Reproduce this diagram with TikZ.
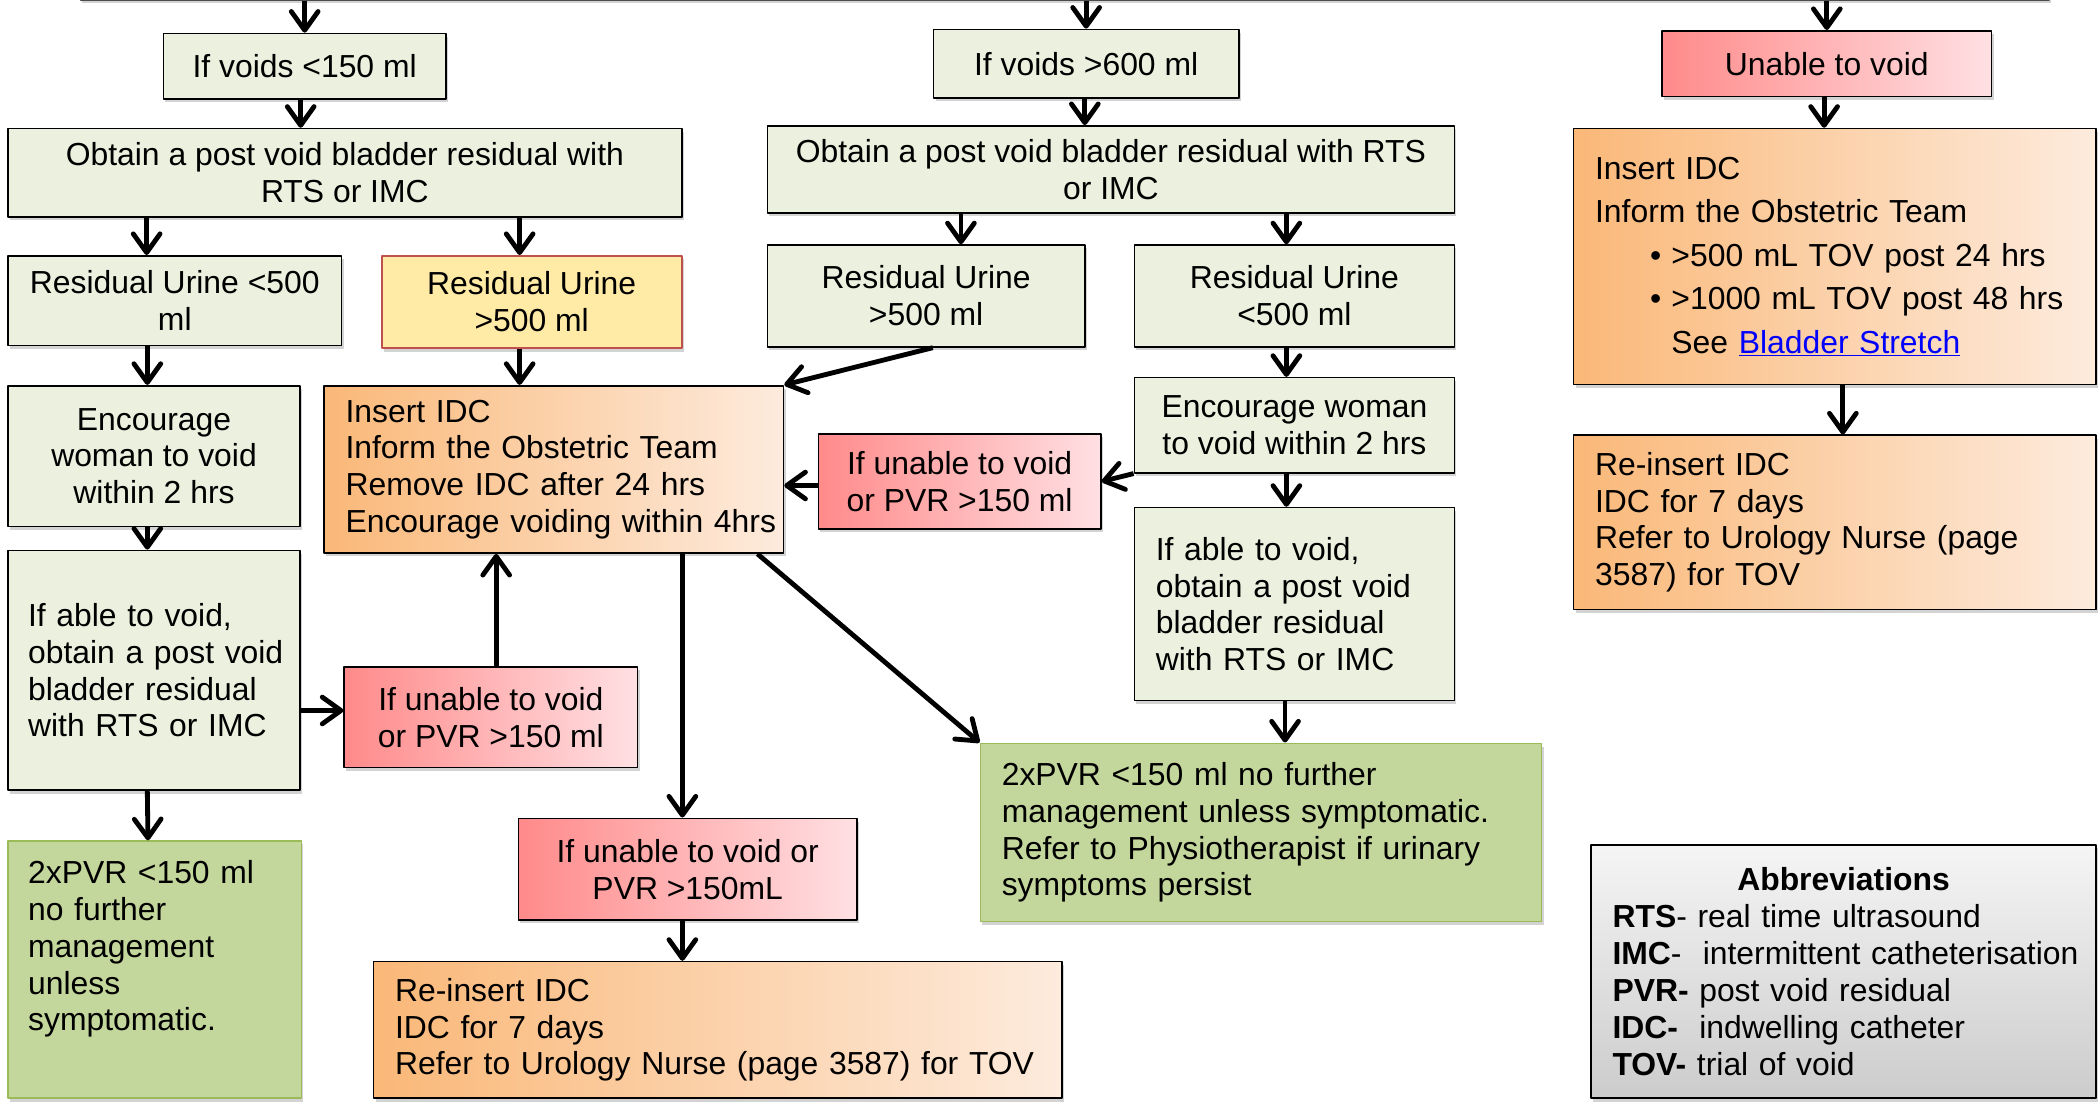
\documentclass[tikz,border=0pt]{standalone}
\usepackage{fontspec}
\setmainfont{Liberation Sans}
\usetikzlibrary{arrows.meta,shadows}

\definecolor{paleolive}{HTML}{EBF1DE}
\definecolor{olivefill}{HTML}{C3D69B}
\definecolor{oliveline}{HTML}{9BBB59}
\definecolor{warnyellow}{HTML}{FFEAA6}
\definecolor{warnred}{HTML}{C0504D}
\definecolor{orangeL}{HTML}{FAB878}
\definecolor{orangeR}{HTML}{FDEBDD}
\definecolor{redL}{HTML}{FF8A8A}
\definecolor{redR}{HTML}{FFE0E3}
\definecolor{linkblue}{HTML}{0000FF}

\begin{document}
\begin{tikzpicture}[x=1pt, y=-1pt, line cap=round, line join=round,
  font=\fontsize{23.8}{27.5}\selectfont,
  box/.style={draw=black, line width=1.2pt, inner sep=0pt, align=center,
    drop shadow={shadow xshift=1.5pt, shadow yshift=-2.5pt, opacity=0.35}},
  stepbox/.style={box, fill=paleolive},
  endbox/.style={box, draw=oliveline, fill=olivefill},
  alertbox/.style={box, left color=redL, right color=redR},
  actbox/.style={box, left color=orangeL, right color=orangeR},
  notebox/.style={align=left, inner xsep=16pt},
  flow/.style={line width=3.6pt, line cap=butt, -{Straight Barb[length=14pt, width=20pt, round]}}]

  %% ════ header box (cut off by the page) ════
  \node[stepbox, draw=black!70, minimum width=1470, minimum height=40] (head) at (795,-20) {};

  %% ════ row 1 ════
  \node[stepbox, minimum width=211, minimum height=49] (voids150) at (227.5,49.5) {If voids <150 ml};
  \node[stepbox, minimum width=228, minimum height=51] (voids600) at (811,47.5) {If voids >600 ml};
  \node[alertbox, minimum width=246, minimum height=49] (unable) at (1364,47.5) {Unable to void};

  %% ════ row 2 ════
  \node[stepbox, minimum width=503, minimum height=66] (obtainL) at (257.5,129)
    {Obtain a post void bladder residual with\\RTS or IMC};
  \node[stepbox, minimum width=513, minimum height=65] (obtainM) at (829.5,126.5)
    {Obtain a post void bladder residual with RTS\\or IMC};
  \node[actbox, notebox, text width=358, minimum height=191, font=\fontsize{23.8}{32.5}\selectfont] (insertR) at (1370,191.5)
    {Insert IDC\\
     Inform the Obstetric Team\\
     \hspace*{41pt}\makebox[16pt][l]{\textbullet}>500 mL TOV post 24 hrs\\
     \hspace*{41pt}\makebox[16pt][l]{\textbullet}>1000 mL TOV post 48 hrs\\
     \hspace*{57pt}See \textcolor{linkblue}{\underline{Bladder Stretch}}};

  %% ════ row 3 ════
  \node[stepbox, minimum width=249, minimum height=67] (resL) at (130.5,224.5) {Residual Urine <500\\ml};
  \node[box, draw=warnred, fill=warnyellow, minimum width=224, minimum height=69] (resY) at (397,225.5) {Residual Urine\\>500 ml};
  \node[stepbox, minimum width=237, minimum height=76] (resM) at (691.5,221) {Residual Urine\\>500 ml};
  \node[stepbox, minimum width=239, minimum height=76] (resR) at (966.5,221) {Residual Urine\\<500 ml};
  \node[actbox, notebox, text width=358, minimum height=130] (reinsR) at (1370,390)
    {Re-insert IDC\\IDC for 7 days\\Refer to Urology Nurse (page\\3587) for TOV};

  %% ════ middle rows ════
  \node[stepbox, minimum width=218, minimum height=105] (encL) at (115,340.5) {Encourage\\woman to void\\within 2 hrs};
  \node[actbox, notebox, text width=311, minimum height=125] (insertM) at (413.5,350.5)
    {Insert IDC\\Inform the Obstetric Team\\Remove IDC after 24 hrs\\\mbox{Encourage voiding within 4hrs}};
  \node[alertbox, minimum width=211, minimum height=71] (unableM) at (716.5,359.5) {If unable to void\\or PVR >150 ml};
  \node[stepbox, minimum width=239, minimum height=71] (encR) at (966.5,317.5) {Encourage woman\\to void within 2 hrs};

  \node[stepbox, notebox, inner xsep=15pt, text width=188, minimum height=179] (ableL) at (115,500.5)
    {If able to void,\\\mbox{obtain a post void}\\bladder residual\\with RTS or IMC};
  \node[alertbox, minimum width=219, minimum height=75] (unableL) at (366.5,535.5) {If unable to void\\or PVR >150 ml};
  \node[stepbox, notebox, text width=207, minimum height=144] (ableR) at (966.5,451)
    {If able to void,\\obtain a post void\\bladder residual\\with RTS or IMC};

  %% ════ bottom rows ════
  \node[endbox, notebox, text width=387, minimum height=133] (greenR) at (941.5,621.5)
    {2xPVR <150 ml no further\\management unless symptomatic.\\Refer to Physiotherapist if urinary\\symptoms persist};
  \node[endbox, notebox, inner xsep=15pt, text width=189, minimum height=192] (greenL) at (115.5,724)
    {2xPVR <150 ml\\no further\\management\\unless\\symptomatic.\\\strut};
  \node[alertbox, minimum width=253, minimum height=76] (unableB) at (513.5,649) {If unable to void or\\PVR >150mL};
  \node[actbox, notebox, text width=482, minimum height=102] (reinsB) at (536,769)
    {Re-insert IDC\\IDC for 7 days\\Refer to Urology Nurse (page 3587) for TOV};

  %% ════ abbreviations ════
  \node[box, notebox, top color=gray!8, bottom color=gray!40, text width=345, minimum height=189] (abbrev) at (1376.5,725.5)
    {\makebox[345pt][c]{\textbf{Abbreviations}}\\
     \textbf{RTS}- real time ultrasound\\
     \mbox{\textbf{IMC}-\ \ intermittent catheterisation}\\
     \textbf{PVR-} post void residual\\
     \textbf{IDC-}\ \ indwelling catheter\\
     \textbf{TOV-} trial of void};

  %% ════ connectors ════
  \draw[flow] (voids150.north |- head.south) -- (voids150.north);
  \draw[flow] (voids600.north |- head.south) -- (voids600.north);
  \draw[flow] (unable.north |- head.south) -- (unable.north);

  \draw[flow] ([xshift=-3pt]voids150.south) -- ([xshift=-3pt]voids150.south |- obtainL.north);
  \draw[flow] ([xshift=-21pt]resL.north |- obtainL.south) -- ([xshift=-21pt]resL.north);
  \draw[flow] ([xshift=-9pt]resY.north |- obtainL.south) -- ([xshift=-9pt]resY.north);
  \draw[flow] ([xshift=-5pt]encL.north |- resL.south) -- ([xshift=-5pt]encL.north);
  \draw[flow] ([xshift=-9pt]resY.south) -- ([xshift=-9pt]resY.south |- insertM.north);
  \draw[flow] ([xshift=-5pt]encL.south) -- ([xshift=-5pt]ableL.north);
  \draw[flow] ([yshift=5pt]unableL.west -| ableL.east) -- ([yshift=5pt]unableL.west);
  \draw[flow] ([xshift=-5pt]ableL.south) -- ([xshift=-5pt]greenL.north);
  \draw[flow] ([xshift=4pt]unableL.north) -- ([xshift=4pt]unableL.north |- insertM.south);
  \draw[flow] ([xshift=-4pt]unableB.north |- insertM.south) -- ([xshift=-4pt]unableB.north);
  \draw[flow] ([xshift=-4pt]unableB.south) -- ([xshift=-4pt]unableB.south |- reinsB.north);
  \draw[flow] ([xshift=-20pt]insertM.south east) -- (greenR.north west);

  \draw[flow] ([xshift=-1pt]voids600.south) -- ([xshift=-1pt]voids600.south |- obtainM.north);
  \draw[flow] ([xshift=26pt]resM.north |- obtainM.south) -- ([xshift=26pt]resM.north);
  \draw[flow] ([xshift=-6pt]resR.north |- obtainM.south) -- ([xshift=-6pt]resR.north);
  \draw[flow] ([xshift=5pt]resM.south) -- (insertM.north east);
  \draw[flow] ([xshift=-6pt]resR.south) -- ([xshift=-6pt]encR.north);
  \draw[flow] (encR.south west) -- (unableM.east);
  \draw[flow] ([yshift=-3pt]unableM.west) -- ([yshift=-3pt]unableM.west -| insertM.east);
  \draw[flow] ([xshift=-6pt]encR.south) -- ([xshift=-6pt]ableR.north);
  \draw[flow] ([xshift=18pt]greenR.north |- ableR.south) -- ([xshift=18pt]greenR.north);

  \draw[flow] ([xshift=-2pt]unable.south) -- ([xshift=-2pt]unable.south |- insertR.north);
  \draw[flow] ([xshift=6pt]insertR.south) -- ([xshift=6pt]reinsR.north);

  % pin the canvas to the reference frame
  \pgfresetboundingbox
  \path[use as bounding box] (0,0) rectangle (1568,827);
\end{tikzpicture}
\end{document}
